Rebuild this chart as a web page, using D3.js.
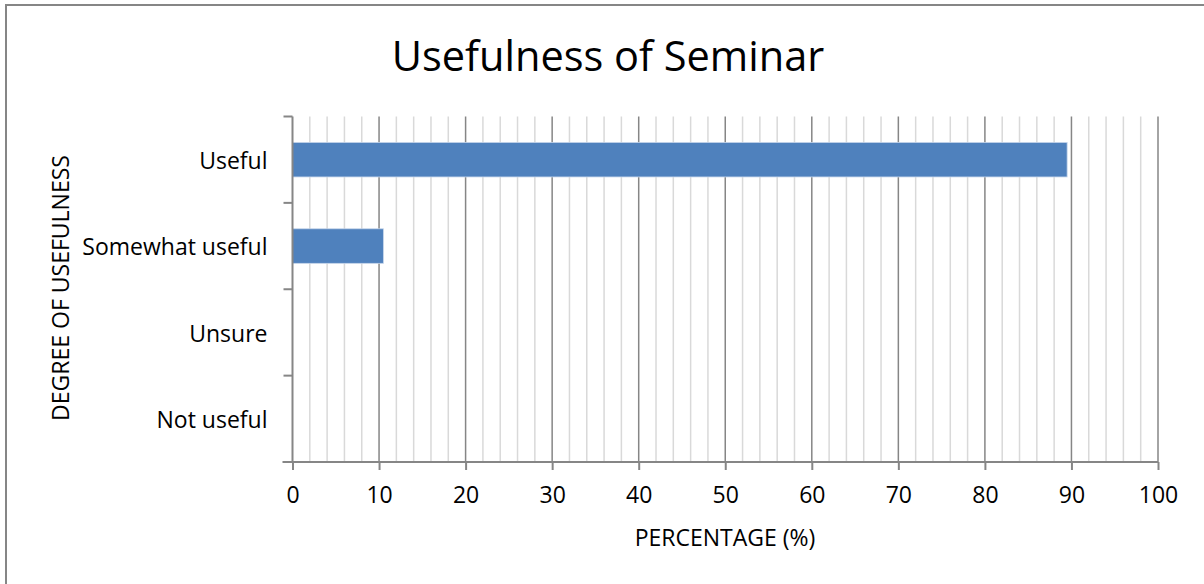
<!DOCTYPE html>
<html><head><meta charset="utf-8">
<script src="https://cdn.jsdelivr.net/npm/d3@7"></script>
<style>body{margin:0;background:#fff}svg{display:block}text{font-family:"Open Sans",sans-serif;fill:#000}</style>
</head><body><svg id="c" width="1204" height="584"></svg>
<script>
const categories = ["Useful","Somewhat useful","Unsure","Not useful"];
const values = [89.5, 10.5, 0, 0];
const xTicks = [0,10,20,30,40,50,60,70,80,90,100];
const minorTicks = d3.range(0,101,2);
const title = "Usefulness of Seminar";
const xTitle = "PERCENTAGE (%)";
const yTitle = "DEGREE OF USEFULNESS";

const FONT = "'Open Sans'";
const svg = d3.select("#c");
svg.append("rect").attr("x",6).attr("y",5).attr("width",1220).attr("height",600)
  .attr("fill","#fff").attr("stroke","#868686").attr("stroke-width",2);

const L=292.5, R=1158, T=116.5, B=462;
const x = d3.scaleLinear().domain([0,100]).range([L,R]);
const y = d3.scaleBand().domain(categories).range([T,B]).paddingInner(0.6).paddingOuter(0.3);
const yb = d3.scaleBand().domain(categories).range([T,B]);

svg.append("g").selectAll("line").data(minorTicks.filter(d=>d%10!==0)).join("line")
  .attr("x1",d=>x(d)).attr("x2",d=>x(d)).attr("y1",T).attr("y2",B)
  .attr("stroke","#d9d9d9").attr("stroke-width",1.5);
svg.append("g").selectAll("line").data(xTicks.filter(d=>d>0)).join("line")
  .attr("x1",d=>x(d)).attr("x2",d=>x(d)).attr("y1",T).attr("y2",B)
  .attr("stroke","#868686").attr("stroke-width",1.5);

svg.append("g").selectAll("rect").data(values.map((v,i)=>({c:categories[i],v}))).join("rect")
  .attr("x",x(0)).attr("y",d=>y(d.c)).attr("width",d=>x(d.v)-x(0)).attr("height",y.bandwidth())
  .attr("fill","#4f81bd").attr("stroke","#c6d5ea").attr("stroke-width",0.8);

const xa = svg.append("g").attr("transform",`translate(0,${B})`)
  .call(d3.axisBottom(x).tickValues(xTicks).tickSize(8).tickPadding(17).tickSizeOuter(0));
xa.select(".domain").attr("stroke","#868686").attr("stroke-width",2).attr("d",`M${L-10},0H${R}`);
xa.selectAll(".tick line").attr("stroke","#868686").attr("stroke-width",2);
xa.selectAll("text").attr("font-size",23).attr("font-family",FONT).attr("fill","#000");

const ya = svg.append("g").attr("transform",`translate(${L},0)`)
  .call(d3.axisLeft(yb).tickSize(0).tickPadding(25));
ya.select(".domain").attr("stroke","#868686").attr("stroke-width",2).attr("d",`M0,${T}V${B}`);
ya.selectAll("text").attr("font-size",23).attr("font-family",FONT).attr("fill","#000").attr("dy","0.4em");
svg.append("g").selectAll("line").data(d3.range(categories.length+1)).join("line")
  .attr("x1",L-9).attr("x2",L).attr("y1",i=>T+i*yb.step()).attr("y2",i=>T+i*yb.step())
  .attr("stroke","#868686").attr("stroke-width",2);

svg.append("text").attr("x",608).attr("y",71).attr("text-anchor","middle")
  .attr("font-size",41.5).text(title);
svg.append("text").attr("x",725).attr("y",546).attr("text-anchor","middle")
  .attr("font-size",23).text(xTitle);
svg.append("text").attr("transform","translate(69,288) rotate(-90)").attr("text-anchor","middle")
  .attr("font-size",23).text(yTitle);
</script></body></html>
